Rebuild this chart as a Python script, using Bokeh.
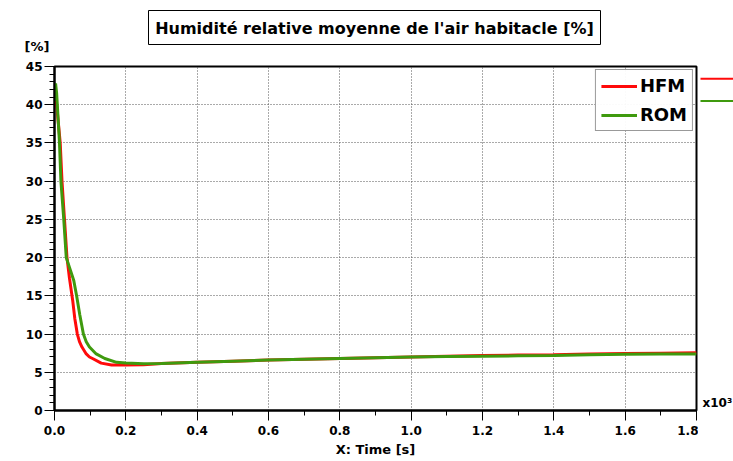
from bokeh.plotting import figure
from bokeh.layouts import row, column
from bokeh.models import Legend, LegendItem, Range1d, FixedTicker
from bokeh.core.properties import value
from bokeh.embed import file_html
from bokeh.resources import INLINE

# Data (time in 10^3 s)
hfm_t = [0, 0.005, 0.01, 0.016, 0.021, 0.028, 0.035, 0.042, 0.051, 0.057, 0.064, 0.07, 0.077,
         0.089, 0.098, 0.108, 0.131, 0.16, 0.2, 0.25, 0.3, 0.4, 0.5, 0.6, 0.7, 0.8, 0.9,
         1.0, 1.1, 1.2, 1.3, 1.4, 1.5, 1.6, 1.7, 1.8]
hfm_y = [42.5, 40.5, 38, 35, 30, 25, 20, 17.3, 14.4, 12.0, 10, 9.0, 8.3, 7.4, 7.0, 6.77, 6.2,
         5.95, 5.95, 6.0, 6.15, 6.3, 6.45, 6.6, 6.7, 6.8, 6.9, 7.0, 7.1, 7.2, 7.25, 7.3,
         7.4, 7.45, 7.5, 7.55]
rom_t = [0, 0.003, 0.006, 0.014, 0.018, 0.026, 0.033, 0.045, 0.054, 0.062, 0.071, 0.081, 0.089,
         0.098, 0.117, 0.141, 0.174, 0.2, 0.25, 0.3, 0.4, 0.5, 0.6, 0.7, 0.8, 0.9,
         1.0, 1.1, 1.2, 1.3, 1.4, 1.5, 1.6, 1.7, 1.8]
rom_y = [40.5, 42.8, 41.5, 35, 30, 25, 20, 18.3, 17, 15, 12.5, 10, 9.0, 8.3, 7.4, 6.8, 6.3,
         6.2, 6.1, 6.15, 6.3, 6.45, 6.6, 6.7, 6.8, 6.9, 7.0, 7.05, 7.1, 7.15, 7.2, 7.3,
         7.35, 7.4, 7.4]
series_names = ["HFM", "ROM"]
series_colors = ["#ff0a0a", "#3f9a0e"]
# side markers shown right of the plot frame (y in % units)
side_marker_y = [43.4, 40.5]
x_ticks = [0.0, 0.2, 0.4, 0.6, 0.8, 1.0, 1.2, 1.4, 1.6, 1.8]
y_ticks = [0, 5, 10, 15, 20, 25, 30, 35, 40, 45]
title_text = "Humidité relative moyenne de l'air habitacle [%]"
unit_text = "[%]"
scale_text = "x10³"

FONT = "DejaVu Sans"

# ---- header strip (title box and unit label), pixel coordinates ----
top = figure(frame_width=733, frame_height=58, output_backend="svg", toolbar_location=None,
             x_range=Range1d(0, 733), y_range=Range1d(58, 0),
             min_border_left=0, min_border_right=0, min_border_top=0, min_border_bottom=0,
             background_fill_color="white", border_fill_color="white")
top.axis.visible = False
top.grid.visible = False
top.outline_line_color = None
top.rect(x=[374], y=[27], width=[452], height=[34], fill_color="white",
         line_color="black", line_width=1)
top.text(x=[374], y=[27.5], text=[title_text], text_font=value(FONT), text_font_style="bold",
         text_font_size="16px", text_align="center", text_baseline="middle", text_color="black")
top.text(x=[24], y=[45.5], text=[unit_text], text_font=value(FONT), text_font_style="bold",
         text_font_size="13px", text_align="left", text_baseline="middle", text_color="black")

# ---- main plot ----
p = figure(frame_width=642, frame_height=344, output_backend="svg", toolbar_location=None,
           x_range=Range1d(0, 1.8), y_range=Range1d(0, 45),
           min_border_left=54, min_border_top=8, min_border_right=2, min_border_bottom=10,
           background_fill_color="white", border_fill_color="white")
p.outline_line_color = "black"
p.outline_line_width = 2

for ax in (p.xaxis[0], p.yaxis[0]):
    ax.axis_line_color = "black"
    ax.axis_line_width = 2
    ax.major_tick_line_color = "black"
    ax.minor_tick_line_color = "black"
    ax.major_tick_line_width = 1
    ax.minor_tick_line_width = 1
    ax.major_tick_out = 10
    ax.major_tick_in = 0
    ax.minor_tick_out = 5
    ax.minor_tick_in = 0
    ax.major_label_text_font = FONT
    ax.major_label_text_font_style = "bold"
    ax.major_label_text_font_size = "12px"
    ax.major_label_text_color = "black"

p.xaxis.ticker = FixedTicker(ticks=x_ticks, minor_ticks=[i / 10 for i in range(19)])
p.yaxis.ticker = FixedTicker(ticks=y_ticks, minor_ticks=list(range(46)))
p.xaxis.major_label_overrides = {t: f"{t:.1f}" for t in x_ticks}
p.xaxis.axis_label = "X: Time [s]"
p.xaxis.axis_label_text_font = FONT
p.xaxis.axis_label_text_font_style = "bold"
p.xaxis.axis_label_text_font_size = "13px"
p.xaxis.axis_label_text_color = "black"
p.xaxis.axis_label_standoff = 4
p.yaxis.major_label_standoff = 2

p.grid.grid_line_color = "#555555"
p.grid.grid_line_dash = "1 2"
p.grid.grid_line_width = 1
p.xgrid.ticker = FixedTicker(ticks=x_ticks)
p.ygrid.ticker = FixedTicker(ticks=y_ticks)

r1 = p.line(hfm_t, hfm_y, line_color=series_colors[0], line_width=3)
r2 = p.line(rom_t, rom_y, line_color=series_colors[1], line_width=3)

legend = Legend(items=[LegendItem(label=series_names[0], renderers=[r1]),
                       LegendItem(label=series_names[1], renderers=[r2])],
                location="top_right", label_text_font=FONT, label_text_font_style="bold",
                label_text_font_size="18px", label_text_color="black",
                border_line_color="#333333", border_line_width=1,
                glyph_width=36, glyph_height=20, label_height=20, spacing=8, padding=5,
                margin=3, label_standoff=3)
p.add_layout(legend)

# ---- side strip to the right of the frame ----
s = figure(frame_width=37, frame_height=344, output_backend="svg", toolbar_location=None,
           x_range=Range1d(0, 37), y_range=Range1d(0, 45),
           min_border_left=0, min_border_right=0, min_border_top=8, min_border_bottom=10,
           background_fill_color="white", border_fill_color="white")
s.axis.visible = False
s.grid.visible = False
s.outline_line_color = None
for yv, c in zip(side_marker_y, series_colors):
    s.segment(x0=[2], y0=[yv], x1=[37], y1=[yv], line_color=c, line_width=2)
s.text(x=[4], y=[1.0], text=[scale_text], text_font=value(FONT), text_font_style="bold",
       text_font_size="12px", text_baseline="middle", text_color="black")

layout = column(top, row(p, s, spacing=0), spacing=0)
html = file_html(layout, INLINE)
open("out.html", "w").write(html)
